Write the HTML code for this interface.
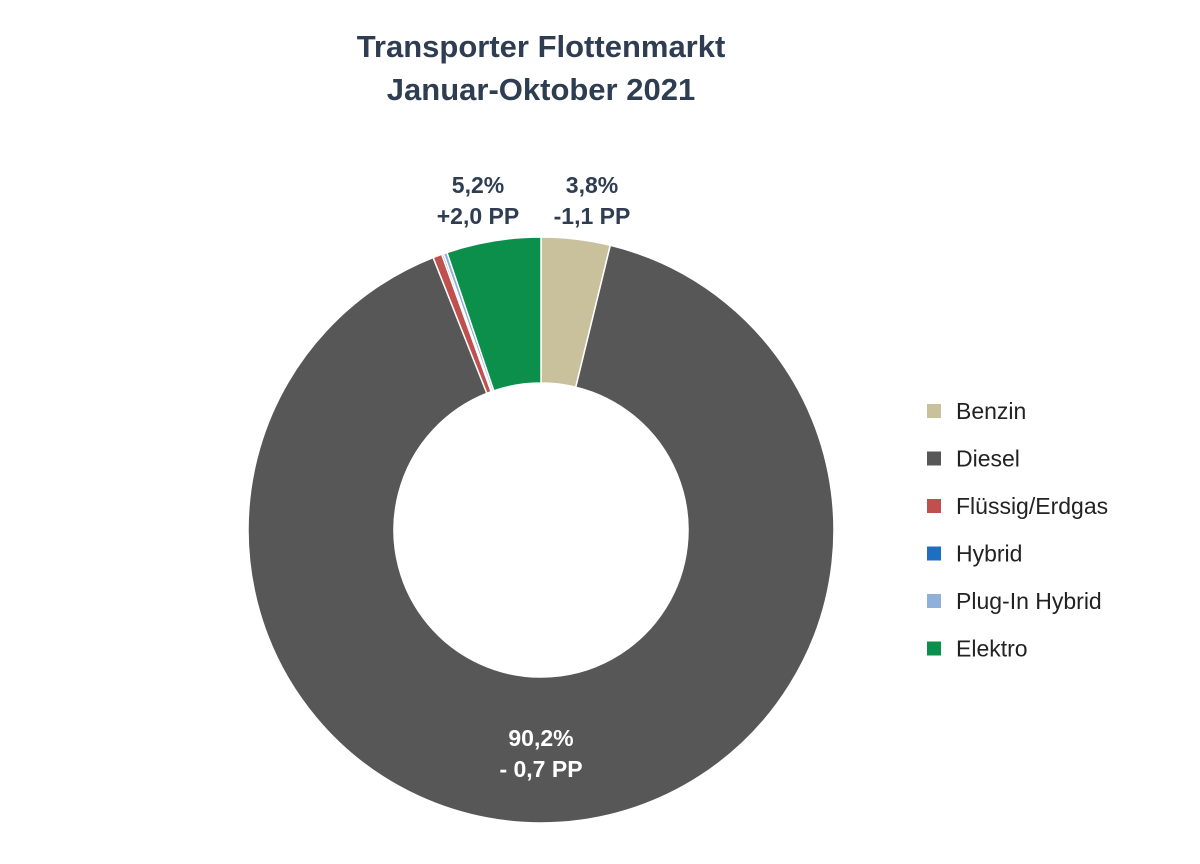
<!DOCTYPE html>
<html><head><meta charset="utf-8"><style>
body{margin:0;background:#fff;width:1200px;height:859px;overflow:hidden;font-family:"Liberation Sans",Arial,sans-serif}
</style></head><body>
<svg id="chart" width="1200" height="859">
<text x="541" y="57" text-anchor="middle" font-size="31" font-weight="bold" fill="#2f3d52">Transporter Flottenmarkt</text>
<text x="541" y="100" text-anchor="middle" font-size="31" font-weight="bold" fill="#2f3d52">Januar-Oktober  2021</text>
<g id="slices"></g>
<g id="labels"></g>
<g id="legend"></g>
</svg>
<script>
const categories=["Benzin","Diesel","Flüssig/Erdgas","Hybrid","Plug-In Hybrid","Elektro"];
const shares=[3.8,90.2,0.5,0.1,0.2,5.2];
const colors=["#c9c09c","#575757","#c0504d","#1f6fc0","#8fb0d8","#0d8f4c"];
const labelLines=[["3,8%","-1,1 PP"],["90,2%","- 0,7 PP"],null,null,null,["5,2%","+2,0 PP"]];
const NS="http://www.w3.org/2000/svg";
const cx=541,cy=530,R=293,r=147;
const total=shares.reduce((a,b)=>a+b,0);
function pt(a,rad){return [cx+rad*Math.sin(a),cy-rad*Math.cos(a)];}
let acc=0;
const gS=document.getElementById('slices');
shares.forEach((v,i)=>{
  const a0=acc/total*2*Math.PI;acc+=v;const a1=acc/total*2*Math.PI;
  const large=(a1-a0)>Math.PI?1:0;
  const p0=pt(a0,R),p1=pt(a1,R),q1=pt(a1,r),q0=pt(a0,r);
  const p=document.createElementNS(NS,'path');
  p.setAttribute('d',`M${p0}A${R},${R} 0 ${large} 1 ${p1}L${q1}A${r},${r} 0 ${large} 0 ${q0}Z`);
  p.setAttribute('fill',colors[i]);p.setAttribute('stroke','#fff');p.setAttribute('stroke-width','1.5');
  
  
  gS.appendChild(p);
});
const gL=document.getElementById('labels');
const labelPos=[[592,193,"#2f3d52"],[541,746,"#ffffff"],null,null,null,[478,193,"#2f3d52"]];
labelLines.forEach((ls,i)=>{
  if(!ls)return;
  const [x,y,c]=labelPos[i];
  ls.forEach((s,j)=>{
    const t=document.createElementNS(NS,'text');
    t.setAttribute('x',x);t.setAttribute('y',y+j*31);t.setAttribute('text-anchor','middle');
    t.setAttribute('font-size','23');t.setAttribute('font-weight','bold');t.setAttribute('fill',c);
    t.textContent=s;
    
    
    gL.appendChild(t);
  });
});
const gG=document.getElementById('legend');
categories.forEach((c,i)=>{
  const y=411+i*47.5;
  const g=document.createElementNS(NS,'g');
  
  
  const s=document.createElementNS(NS,'rect');
  s.setAttribute('x',927);s.setAttribute('y',y-7);s.setAttribute('width',14);s.setAttribute('height',14);s.setAttribute('fill',colors[i]);
  const t=document.createElementNS(NS,'text');
  t.setAttribute('x',956);t.setAttribute('y',y+8);t.setAttribute('font-size','23');t.setAttribute('fill','#222');
  t.textContent=c;
  g.appendChild(s);g.appendChild(t);gG.appendChild(g);
});
</script>
</body></html>
